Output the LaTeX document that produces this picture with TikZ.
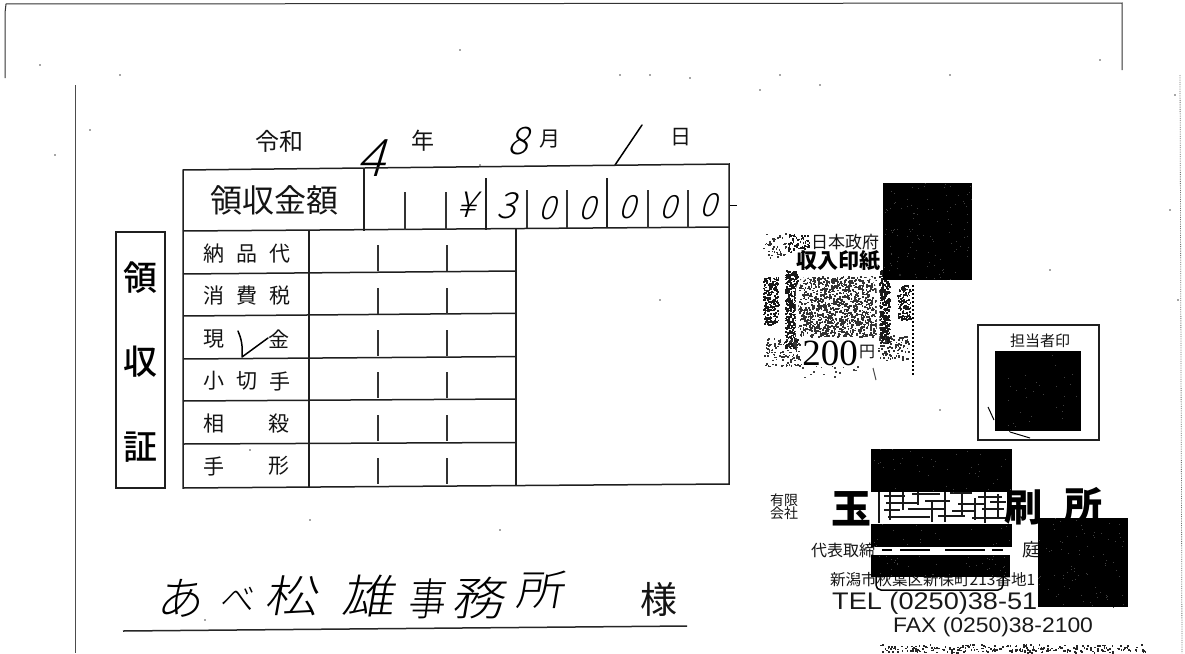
\documentclass[tikz,border=0pt]{standalone}
\usepackage{fontspec}
\setmainfont{Liberation Sans}
\newfontfamily\cjk{Noto Sans CJK JP}
\newfontfamily\cjkm{Noto Sans CJK JP Medium}
\newfontfamily\hand[FakeSlant=0.15]{Noto Sans CJK JP Light}
\newfontfamily\handd[FakeSlant=0.3]{Noto Sans CJK JP Light}
\newfontfamily\rom{Liberation Serif}
\newcommand{\fz}[1]{\fontsize{#1}{#1}\selectfont}
\newcommand{\noise}[6]{\foreach \i in {1,...,#5}{%
  \pgfmathsetmacro\px{#1+#3*rnd}\pgfmathsetmacro\py{#2+#4*rnd}%
  \fill[#6] (\px,\py) rectangle +(1.7,1.7);}}
\newcommand{\speck}[5]{\foreach \i in {1,...,#5}{%
  \pgfmathsetmacro\px{#1+#3*rnd}\pgfmathsetmacro\py{#2+#4*rnd}%
  \fill[black!75] (\px,\py) rectangle +(.8,.8);}}
\tikzset{
  form/.style={line width=1.5pt,black!88},
  thin rule/.style={line width=1.1pt,black!80},
  hw/.style={line width=1.5pt,black,line cap=round,line join=round},
  lab/.style={inner sep=0pt,font=\cjk\fz{#1},black!92},
  mlab/.style={inner sep=0pt,font=\cjkm\fz{#1},black},
  hwt/.style={inner sep=0pt,font=\hand\fz{#1},black},
  hwd/.style={inner sep=0pt,font=\handd\fz{#1},black},
  redact/.style={fill=black,draw=none},
  frag/.style={line width=2.8pt,black!90},
}
\begin{document}
\begin{tikzpicture}[x=1pt,y=-1pt]
\useasboundingbox (0,0) rectangle (1185,653);
\fill[white] (0,0) rectangle (1185,653);
\pgfmathsetseed{7}
% page edges
\draw[line width=1pt,black!80] (5,78)--(5,13)--(6,4)--(1122,3)--(1122,70);
\draw[line width=1pt,black!70] (75,85)--(75,653);
\draw[line width=.8pt,black!55,densely dotted] (1180,75)--(1182,653);
% date
\node[lab=24] (nreiwa) at (279,141) {令和};
\node[lab=23] (nyear) at (423,141) {年};
\node[lab=21] (nmonth) at (550,139) {月};
\node[lab=21] (nday) at (681,137) {日};
\node[hwd=52] (hfour) at (370,158) {4};
\node[hwd=38] (height) at (518,141) {8};
\draw[hw] (615,165)--(642,125);
% title box
\draw[form] (116,232) rectangle (165,488);
\node[mlab=34] (t1) at (140,278) {領};
\node[mlab=34] (t2) at (140,362) {収};
\node[mlab=34] (t3) at (140,447) {証};
% table
\draw[form] (183,170)--(729,164)--(729,484)--(183,488)--cycle;
\draw[form] (183,231)--(729,227);
\foreach \y/\d in {274/3,316/2.7,359/2.4,401/2,444/1.5}
  \draw[form] (183,\y)--(516,\y-\d);
\draw[form] (364,168)--(364,231);
\draw[thin rule] (405,192)--(405,230);
\draw[thin rule] (446,192)--(446,230);
\draw[form] (486,178)--(486,230);
\draw[thin rule] (527,190)--(527,228);
\draw[thin rule] (567,190)--(567,228);
\draw[form] (607,178)--(607,228);
\draw[thin rule] (648,190)--(648,228);
\draw[thin rule] (688,190)--(688,228);
\draw[line width=1pt] (730,205)--(737,205);
\draw[form] (309,231)--(309,488);
\draw[form] (516,229)--(516,486);
\foreach \y in {245,288,330,372,415,458}{
  \draw[thin rule] (378,\y)--(378,\y+26);
  \draw[thin rule] (447,\y)--(447,\y+26);
}
\node[lab=32] (lamount) at (274,200) {領収金額};
\foreach \n/\a/\b/\c/\y in {a/納/品/代/254,b/消/費/税/296,d/小/切/手/381}{
  \node[lab=21] (r\n1) at (214,\y) {\a};
  \node[lab=21] (r\n2) at (247,\y) {\b};
  \node[lab=21] (r\n3) at (280,\y) {\c};
}
\node[lab=21] (r1a) at (214,339) {現};
\node[lab=21] (r1b) at (279,339) {金};
\node[lab=21] (r2a) at (214,424) {相};
\node[lab=21] (r2b) at (279,424) {殺};
\node[lab=21] (r3a) at (214,466) {手};
\node[lab=21] (r3b) at (279,466) {形};
\draw[hw] (238,331) .. controls (241,338) and (243,345) .. (242,357)--(268,338);
% amount
\node[hwd=36] (d0) at (466,205) {¥};
\node[hwd=36] (d1) at (506,206) {3};
\node[hwd=32] (d2) at (547,208) {0};
\node[hwd=32] (d3) at (587,208) {0};
\node[hwd=32] (d4) at (627,207) {0};
\node[hwd=32] (d5) at (668,207) {0};
\node[hwd=32] (d6) at (708,205) {0};
% addressee
\node[hwt=46] (a1) at (179,598) {あ};
\node[hwt=34] (a2) at (236,599) {べ};
\node[hwt=44,xscale=1.2] (a3) at (291,596) {松};
\node[hwt=46,xscale=1.15] (a4) at (368,596) {雄};
\node[hwt=44,xscale=.85] (a5) at (426,599) {事};
\node[hwt=46,xscale=1.15] (a6) at (478,598) {務};
\node[hwt=42,xscale=1.15] (a7) at (540,590) {所};
\node[lab=37] (sama) at (659,599) {様};
\draw[line width=1.5pt,black!85] (123,631)--(687,626);
% revenue stamp
\noise{799}{276}{77}{60}{1100}{black!80}
\noise{785}{270}{12}{78}{420}{black!90}
\noise{879}{270}{10}{73}{380}{black!90}
\noise{763}{277}{15}{47}{240}{black!90}
\noise{897}{285}{13}{34}{140}{black!90}
\noise{763}{233}{22}{25}{45}{black!80}
\noise{763}{338}{38}{28}{110}{black!80}
\noise{878}{335}{32}{25}{90}{black!80}
\noise{800}{365}{60}{12}{16}{black!75}
\noise{787}{234}{22}{18}{70}{black!90}
\draw[line width=2.5pt,white] (797,338)--(797,292) .. controls (797,276) and (815,272) .. (838,272) .. controls (862,272) and (878,276) .. (878,292)--(878,338);
\fill[white] (802,340) rectangle (878,366);
\draw[line width=2pt,black,dotted] (913,285)--(913,376);
\node[lab=17] (s1) at (845,242) {日本政府};
\node[inner sep=0pt,font=\cjk\bfseries\fz{21},black] (s2) at (838,261) {収入印紙};
\node[inner sep=0pt,font=\rom\fz{37},black] (s3) at (830,353) {200};
\node[lab=16] (s4) at (867,352) {円};
\draw[line width=1pt,black!70] (873,368)--(876,380);
% stamp boxes
\draw[form] (978,325) rectangle (1099,440);
\node[lab=15] (tanto) at (1040,341) {担当者印};
\draw[line width=1pt] (988,407)--(994,420);
\draw[line width=1pt] (1010,432)--(1030,438);
% company
\node[lab=14,align=center] (yugen) at (784,507) {有限\\[-1pt]会社};
\node[inner sep=0pt,font=\cjk\bfseries\fz{40},black] (tama) at (851,509) {玉};
\draw[frag] (879,490)--(879,523);
\foreach \a/\b/\y in {884/905/496,912/940/494,950/972/493,978/1002/497,886/918/503,925/950/501,958/985/504,990/1006/502,884/900/510,908/945/509,952/975/511,982/1004/509,888/930/517,938/965/516,972/1006/518}
  \draw[frag] (\a,\y)--(\b,\y);
\foreach \x/\a/\b in {890/492/520,903/492/510,918/490/505,932/500/522,945/490/522,962/492/515,975/498/520,985/490/523,998/494/518}
  \draw[frag] (\x,\a)--(\x,\b);
\node[inner sep=0pt,font=\cjk\bfseries\fz{38},black] (satsu) at (1023,507) {刷};
\node[inner sep=0pt,font=\cjk\bfseries\fz{38},black] (sho) at (1083,505) {所};
\node[lab=16,anchor=west] (dai) at (811,550) {代表取締};
\node[lab=18] (niwa) at (1031,550) {庭};
\foreach \a/\b in {882/892,900/930,945/985,992/1003}
  \draw[line width=1.6pt] (\a,550)--(\b,550);
\node[lab=15.5,anchor=west] (addr) at (830,580) {新潟市秋葉区新保町213番地1};
\node[inner sep=0pt,anchor=west,font=\fz{24},black!90,xscale=1.13] (tel) at (832,603) {TEL (0250)38-51};
\node[inner sep=0pt,anchor=west,font=\fz{21},black!90,xscale=1.09] (fax) at (893,627) {FAX (0250)38-2100};
\draw[line width=1.5pt,rounded corners=5pt] (876,575)--(876,590)--(1003,590)--(1003,575);
\noise{880}{644}{265}{8}{260}{black!85}
% redactions
\fill[redact] (883,183) rectangle (972,280);
\fill[redact] (995,351) rectangle (1081,431);
\fill[redact] (871,449) rectangle (1012,492);
\fill[redact] (871,524) rectangle (1012,547);
\fill[redact] (871,555) rectangle (1010,577);
\fill[redact] (1038,518) rectangle (1128,607);
\speck{883}{183}{89}{97}{110}
\speck{995}{351}{86}{80}{30}
\speck{871}{449}{141}{43}{40}
\speck{871}{524}{141}{23}{20}
\speck{871}{555}{139}{22}{40}
\speck{1038}{518}{90}{89}{80}
% specks
\foreach \x/\y in {90/130,40/65,55/155,620/75,650/75,690/78,780/75,820/85,950/75,1100/60,1175/95,1170/210,1178/300,250/450,500/530,940/410,480/165,1050/270,900/275,640/655,660/300,120/75,460/50,205/620,310/520,760/90}
  \fill[black!70] (\x,\y) circle (.8);
\end{tikzpicture}
\end{document}
